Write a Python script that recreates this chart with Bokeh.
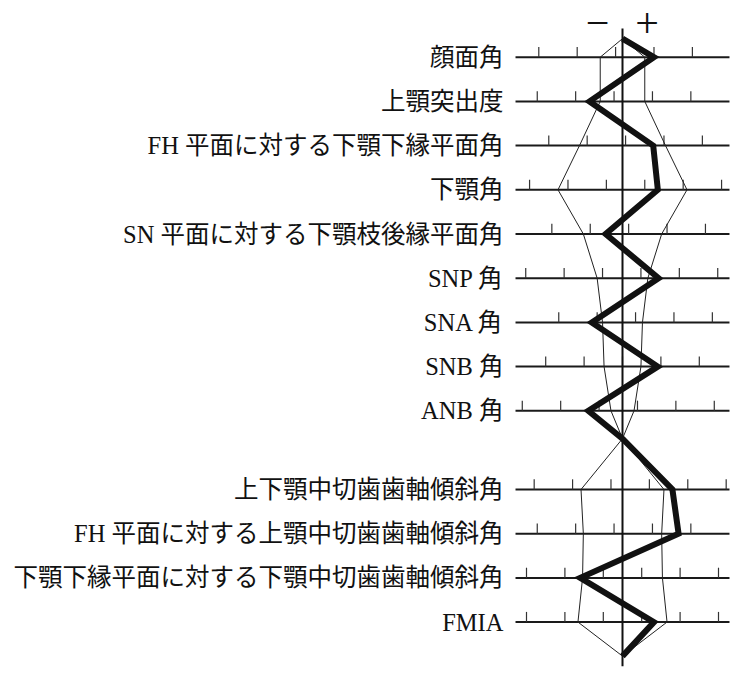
import math
from bokeh.plotting import figure
from bokeh.models import Range1d
from bokeh.core.properties import value
from bokeh.embed import file_html
from bokeh.resources import INLINE

# ---- data (degrees; scale ticks every 5 degrees) ----
labels = [
    "顔面角",
    "上顎突出度",
    "FH 平面に対する下顎下縁平面角",
    "下顎角",
    "SN 平面に対する下顎枝後縁平面角",
    "SNP 角",
    "SNA 角",
    "SNB 角",
    "ANB 角",
    "上下顎中切歯歯軸傾斜角",
    "FH 平面に対する上顎中切歯歯軸傾斜角",
    "下顎下縁平面に対する下顎中切歯歯軸傾斜角",
    "FMIA",
]
groups = [1, 1, 1, 1, 1, 1, 1, 1, 1, 2, 2, 2, 2]
norm_mean = [85.9, 6.1, 29.6, 122.1, 89.2, 77.6, 83.3, 80.0, 3.05,
             126.5, 111.1, 92.5, 57.5]
norm_sd = [2.9, 2.9, 5.6, 8.4, 5.1, 3.3, 2.6, 2.4, 1.5,
           5.4, 5.1, 5.2, 5.8]
patient = [90.0, 1.8, 33.6, 126.7, 87.0, 82.3, 79.3, 84.6, -1.4,
           133.0, 118.4, 87.0, 61.6]
tick_step = 5
sign_labels = ["−", "+"]

# ---- layout ----
W, H = 734, 672
PX_PER_DEG = 7.68
CENTER_PX = 622.0
ROW_PX = 44.2
ROW1_PX = 56.7
HALF_SPAN = 13.93
TICK_LO, TICK_HI = -13.2, 13.6
TICK_LEN = 0.23

x_range = Range1d(-CENTER_PX / PX_PER_DEG, (W - CENTER_PX) / PX_PER_DEG)
y_range = Range1d((H - ROW1_PX) / ROW_PX, -ROW1_PX / ROW_PX)

# row positions (in row units), with gap between the two groups
row_y = []
g2_start = 9.78
first_g2 = groups.index(2)
for i, g in enumerate(groups):
    if g == 1:
        row_y.append(float(i))
    else:
        row_y.append(g2_start + (i - first_g2))
top_apex = -0.42
junction = 8.63
bottom_apex = row_y[-1] + 0.77

p = figure(width=W, height=H, x_range=x_range, y_range=y_range,
           output_backend="svg", toolbar_location=None,
           x_axis_type=None, y_axis_type=None, min_border=0)
p.grid.visible = False
p.outline_line_color = None
p.background_fill_color = "white"
p.border_fill_color = "white"

# horizontal scale lines
p.segment(x0=[-HALF_SPAN] * len(row_y), x1=[HALF_SPAN] * len(row_y),
          y0=row_y, y1=row_y, line_color="#1a1a1a", line_width=2)

# ticks
tx, ty0, ty1 = [], [], []
for m, y in zip(norm_mean, row_y):
    k0 = math.ceil((m + TICK_LO) / tick_step)
    k1 = math.floor((m + TICK_HI) / tick_step)
    for k in range(k0, k1 + 1):
        tx.append(k * tick_step - m)
        ty0.append(y)
        ty1.append(y - TICK_LEN)
p.segment(x0=tx, x1=tx, y0=ty0, y1=ty1, line_color="#333333", line_width=1.2)

# norm envelope (mean ± SD)
def path(offsets):
    xs, ys = [0.0], [top_apex]
    for off, y, g in zip(offsets, row_y, groups):
        if g == 2 and ys[-1] < junction:
            xs.append(0.0); ys.append(junction)
        xs.append(off); ys.append(y)
    xs.append(0.0); ys.append(bottom_apex)
    return xs, ys

lx, ly = path([-s for s in norm_sd])
rx, ry = path(list(norm_sd))
p.line(lx, ly, line_color="#222222", line_width=1)
p.line(rx, ry, line_color="#222222", line_width=1)

# centre line
p.segment(x0=[0], x1=[0], y0=[-0.65], y1=[13.78], line_color="#111111", line_width=2)

# patient polygon
px_, py_ = path([v - m for v, m in zip(patient, norm_mean)])
p.line(px_, py_, line_color="#111111", line_width=6, line_join="miter")

# labels
p.text(x=[-15.5] * len(labels), y=row_y, text=labels,
       text_align="right", text_baseline="middle",
       text_font=value("Liberation Serif, Noto Sans CJK JP"),
       text_font_size="24.5px", text_color="#111111")

# − / + signs
p.text(x=[-3.25, 3.2], y=[-0.77, -0.77], text=sign_labels,
       text_align="center", text_baseline="middle",
       text_font=value("Liberation Serif"), text_font_size="42px",
       text_color="#111111")

open("out.html", "w").write(file_html(p, INLINE))
